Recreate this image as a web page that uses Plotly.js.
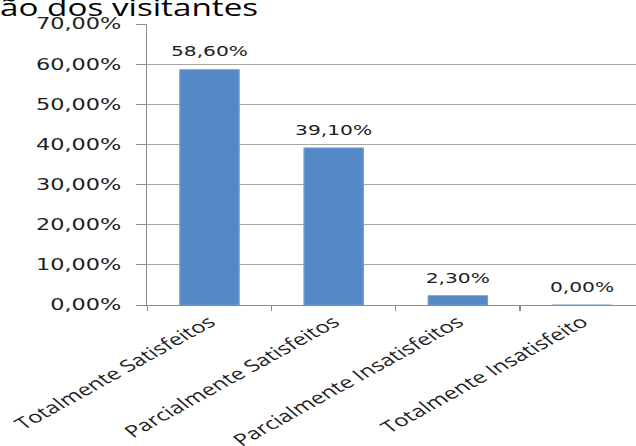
<!DOCTYPE html>
<html>
<head>
<meta charset="utf-8">
<script src="https://cdn.plot.ly/plotly-3.0.1.min.js"></script>
<style>
  html, body { margin: 0; padding: 0; background: #fff; overflow: hidden; width: 636px; height: 446px; }
  /* the reference picture is stretched horizontally: draw narrower, then stretch */
  #chart { width: 440px; height: 446px; transform: scaleX(1.44545); transform-origin: 0 0; }
</style>
</head>
<body>
<div id="chart"></div>
<script>
const titleText = "ão dos visitantes";
const categories = ["Totalmente Satisfeitos", "Parcialmente Satisfeitos", "Parcialmente Insatisfeitos", "Totalmente Insatisfeito"];
const values = [0.586, 0.391, 0.023, 0.0];
const yTickValues = [0, 0.1, 0.2, 0.3, 0.4, 0.5, 0.6, 0.7];

const textColor = "#1e1e1e";

const data = [
  {
    type: "bar",
    x: categories,
    y: values,
    width: 0.476,
    marker: { color: "#5387c5", line: { color: "#6c9ad2", width: 1 } },
    hoverinfo: "none"
  },
  {
    type: "scatter",
    mode: "markers+text",
    x: categories,
    y: values,
    marker: { size: 14, opacity: 0 },
    texttemplate: "%{y:.2%}",
    textposition: "top center",
    textfont: { family: "DejaVu Sans", size: 14, color: textColor },
    cliponaxis: false,
    hoverinfo: "none"
  }
];

const layout = {
  width: 440,
  height: 446,
  separators: ",.",
  paper_bgcolor: "#ffffff",
  plot_bgcolor: "#ffffff",
  margin: { l: 102, r: 0, t: 24, b: 141, pad: 0 },
  showlegend: false,
  title: {
    text: titleText,
    font: { family: "Open Sans", size: 23, color: "#000000" },
    xref: "container", x: 0, xanchor: "left",
    yref: "container", y: 0.965, yanchor: "bottom",
    pad: { t: 0, b: 0, l: 0, r: 0 }
  },
  xaxis: {
    type: "category",
    range: [-0.5, 3.435],
    showgrid: false,
    showline: true,
    linecolor: "#8c8c8c",
    linewidth: 1,
    ticks: "outside",
    tickson: "boundaries",
    ticklen: 5,
    tickcolor: "#8c8c8c",
    tickangle: -38.5,
    tickfont: { family: "Open Sans", size: 16.5, color: textColor },
    fixedrange: true
  },
  yaxis: {
    range: [0, 0.7],
    tickvals: yTickValues,
    tickformat: ".2%",
    showgrid: true,
    gridcolor: "#a6a6a6",
    gridwidth: 1,
    zeroline: false,
    showline: true,
    linecolor: "#8c8c8c",
    linewidth: 1,
    ticks: "outside",
    ticklen: 7,
    tickcolor: "#8c8c8c",
    ticklabelstandoff: 7,
    tickfont: { family: "DejaVu Sans", size: 15.5, color: textColor },
    fixedrange: true
  }
};

Plotly.newPlot("chart", data, layout, { displayModeBar: false, staticPlot: true });
</script>
</body>
</html>
